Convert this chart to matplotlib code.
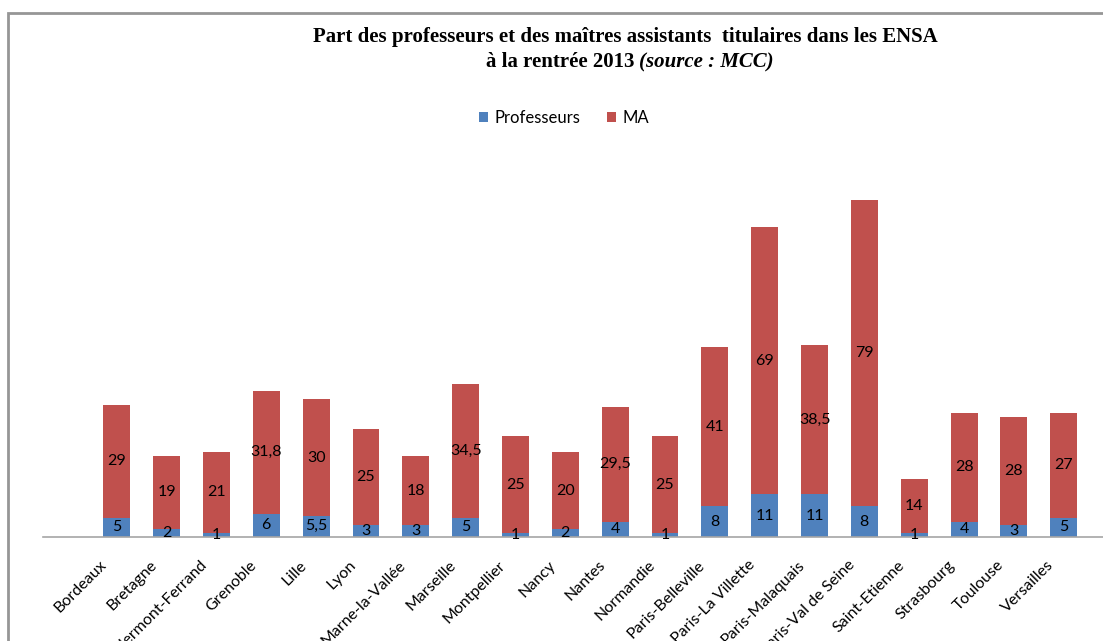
import matplotlib
matplotlib.use("Agg")
import matplotlib.pyplot as plt
from matplotlib.patches import Rectangle
from matplotlib.transforms import ScaledTranslation

# === Données (source : MCC, rentrée 2013) ===
ecoles = ["Bordeaux", "Bretagne", "Clermont-Ferrand", "Grenoble", "Lille", "Lyon",
          "Marne-la-Vallée", "Marseille", "Montpellier", "Nancy", "Nantes", "Normandie",
          "Paris-Belleville", "Paris-La Villette", "Paris-Malaquais", "Paris-Val de Seine",
          "Saint-Etienne", "Strasbourg", "Toulouse", "Versailles"]
professeurs = [5, 2, 1, 6, 5.5, 3, 3, 5, 1, 2, 4, 1, 8, 11, 11, 8, 1, 4, 3, 5]
ma = [29, 19, 21, 31.8, 30, 25, 18, 34.5, 25, 20, 29.5, 25, 41, 69, 38.5, 79, 14, 28, 28, 27]

bleu = "#4F81BD"
rouge = "#C0504D"
police = "Lato"

W, H = 1103, 641
fig = plt.figure(figsize=(W / 100, H / 100), dpi=100)

# cadre gris du graphique (dépasse à droite et en bas)
fig.patches.append(Rectangle((8 / W, -0.1), 1.2, (H - 13) / H + 0.1, transform=fig.transFigure,
                             fill=False, edgecolor="#969696", linewidth=2))

# zone de tracé en pixels (dépasse à droite comme dans l'original)
x0, x1 = 43, 1137.5
ymax = 90
ax = fig.add_axes([x0 / W, (H - 537) / H, (x1 - x0) / W, ymax * 3.874 / H])

x = list(range(len(ecoles)))
b1 = ax.bar(x, professeurs, width=0.54, color=bleu, label="Professeurs")
b2 = ax.bar(x, ma, width=0.54, bottom=professeurs, color=rouge, label="MA")

def fmt(v):
    return f"{v:g}".replace(".", ",")

for i in x:
    ax.text(i, professeurs[i] / 2, fmt(professeurs[i]), ha="center", va="center",
            fontsize=11.5, family=police, color="black")
    ax.text(i, professeurs[i] + ma[i] / 2, fmt(ma[i]), ha="center", va="center",
            fontsize=11.5, family=police, color="black")

ax.set_xlim(-1.48, 20.48)
ax.set_ylim(0, ymax)
ax.set_yticks([])
ax.set_xticks([])
for s in ["top", "right", "left"]:
    ax.spines[s].set_visible(False)
ax.spines["bottom"].set_color("#A6A6A6")
ax.spines["bottom"].set_linewidth(1.2)

# étiquettes inclinées à 45°
decalage = ScaledTranslation(-12 / 100, -26 / 100, fig.dpi_scale_trans)
for i, nom in enumerate(ecoles):
    ax.text(i, 0, nom, transform=ax.get_xaxis_transform() + decalage, rotation=45,
            ha="right", va="center", rotation_mode="anchor", fontsize=11.5, family=police,
            clip_on=False)

# titre
fig.text(625 / W, 1 - 37 / H, "Part des professeurs et des maîtres assistants  titulaires dans les ENSA",
         ha="center", va="center", fontsize=15, fontweight="bold", family="Liberation Serif")
fig.text(635 / W, 1 - 62 / H, "à la rentrée 2013", ha="right", va="center", fontsize=15,
         fontweight="bold", family="Liberation Serif")
fig.text(639 / W, 1 - 62 / H, "(source : MCC)", ha="left", va="center", fontsize=15,
         fontweight="bold", style="italic", family="Liberation Serif")

fig.legend(handles=[b1, b2], loc="center", bbox_to_anchor=(564 / W, 1 - 118 / H), ncol=2,
           frameon=False, prop={"family": police, "size": 12}, handlelength=0.55,
           handleheight=0.55, handletextpad=0.4, columnspacing=1.6)

fig.savefig("out.png", dpi=100)
